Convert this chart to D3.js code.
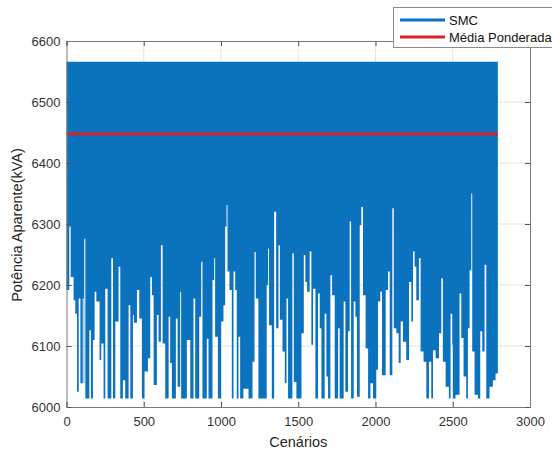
<!DOCTYPE html>
<html>
<head>
<meta charset="utf-8">
<script src="https://cdn.jsdelivr.net/npm/d3@7"></script>
<style>
  body { margin: 0; background: #fff; }
  svg { display: block; }
  text { font-family: "Liberation Sans", Arial, sans-serif; }
</style>
</head>
<body>
<svg id="chart" width="552" height="453"></svg>
<script>
// SMC: lowest value reached inside each run of scenarios (run starts at inicioCenario[i])
const inicioCenario = [
    0, 18, 27, 46, 57, 68, 79, 90, 105, 111, 115, 122, 148, 158, 171, 182, 193, 214, 225, 240,
    251, 266, 290, 301, 316, 337, 348, 365, 380, 402, 413, 430, 436, 456, 471, 488, 505, 527, 542, 553,
    564, 585, 596, 611, 622, 639, 661, 671, 682, 708, 719, 736, 742, 779, 801, 822, 833, 859, 872, 880,
    908, 919, 945, 956, 962, 980, 1001, 1016, 1027, 1036, 1042, 1055, 1070, 1081, 1092, 1102, 1113, 1124, 1145, 1178,
    1204, 1217, 1225, 1242, 1296, 1305, 1311, 1329, 1344, 1357, 1372,
    1381, 1398, 1413, 1424, 1434, 1462, 1471, 1488, 1521, 1536, 1546, 1557, 1574, 1585, 1596, 1611, 1628, 1639, 1650, 1671,
    1682, 1693, 1708, 1719, 1736, 1758, 1768, 1794, 1805, 1822, 1833, 1842, 1859, 1870, 1880, 1898, 1908, 1919, 1936, 1952,
    1967, 1984, 2005, 2016, 2031, 2042, 2066, 2081, 2092, 2109, 2118, 2135, 2150, 2163, 2178, 2199, 2217, 2232, 2243, 2253,
    2264, 2281, 2292, 2311, 2329, 2346, 2361, 2372, 2389, 2411, 2426, 2436, 2454, 2475, 2486, 2497, 2501, 2518, 2544, 2555,
    2570, 2587, 2598, 2609, 2620, 2626, 2641, 2663, 2678, 2691, 2706, 2717, 2738, 2760, 2777
];
const minimoSMC = [
    6192, 6296, 6213, 6175, 6153, 6025, 6178, 6039, 6178, 6039, 6276, 6014, 6126, 6014, 6110, 6189, 6173, 6077, 6104, 6014,
    6194, 6014, 6244, 6014, 6140, 6230, 6014, 6044, 6014, 6167, 6014, 6151, 6138, 6192, 6145, 6014, 6058, 6080, 6213, 6183,
    6036, 6151, 6107, 6265, 6104, 6014, 6148, 6072, 6014, 6145, 6033, 6189, 6014, 6110, 6014, 6178, 6014, 6148, 6238, 6014,
    6112, 6014, 6208, 6244, 6115, 6014, 6140, 6167, 6296, 6331, 6222, 6192, 6014, 6222, 6192, 6014, 6115, 6014, 6030, 6014,
    6074, 6254, 6178, 6014, 6200, 6260, 6134, 6014, 6320, 6129, 6265,
    6143, 6091, 6039, 6178, 6014, 6252, 6041, 6014, 6121, 6249, 6205, 6189, 6255, 6102, 6194, 6014, 6186, 6129, 6014, 6153,
    6050, 6014, 6216, 6183, 6014, 6129, 6014, 6173, 6025, 6124, 6304, 6014, 6173, 6148, 6017, 6298, 6328, 6183, 6096, 6014,
    6039, 6014, 6061, 6173, 6189, 6052, 6192, 6222, 6052, 6326, 6129, 6121, 6072, 6140, 6107, 6077, 6205, 6140, 6255, 6230,
    6175, 6244, 6091, 6074, 6014, 6074, 6014, 6093, 6080, 6121, 6211, 6074, 6033, 6014, 6153, 6102, 6014, 6020, 6186, 6113,
    6050, 6014, 6129, 6224, 6350, 6091, 6020, 6014, 6124, 6091, 6233, 6014, 6033, 6044, 6055
];
const ultimoCenario = 2792;
const picoSMC = 6566;
const mediaPonderada = 6448;

const xTicks = [0, 500, 1000, 1500, 2000, 2500, 3000];
const yTicks = [6000, 6100, 6200, 6300, 6400, 6500, 6600];
const legendLabels = ['SMC', 'Média Ponderada'];
const colors = { smc: '#0b72bd', media: '#d8232a' };

const svg = d3.select('#chart');
const plotLeft = 66.5, plotRight = 530, plotTop = 41, plotBottom = 407;

const x = d3.scaleLinear().domain([0, 3000]).range([plotLeft, plotRight]);
const y = d3.scaleLinear().domain([6000, 6600]).range([plotBottom, plotTop]);

// grid
const grid = svg.append('g').attr('stroke', '#e3e3e3').attr('stroke-width', 1);
grid.selectAll('.gx').data(xTicks.slice(1, -1)).join('line')
    .attr('x1', d => x(d)).attr('x2', d => x(d))
    .attr('y1', plotTop).attr('y2', plotBottom);
grid.selectAll('.gy').data(yTicks.slice(1, -1)).join('line')
    .attr('x1', plotLeft).attr('x2', plotRight)
    .attr('y1', d => y(d)).attr('y2', d => y(d));

// SMC series (dense, so drawn as its band from peak down to run minimum)
const runs = inicioCenario.map((s, i) => ({ s: s, v: minimoSMC[i] }));
runs.push({ s: ultimoCenario, v: minimoSMC[minimoSMC.length - 1] });

const band = d3.area()
    .x(d => x(d.s))
    .y0(d => y(d.v))
    .y1(y(picoSMC))
    .curve(d3.curveStepAfter);

svg.append('path')
    .datum(runs)
    .attr('fill', colors.smc)
    .attr('d', band);

// weighted mean
svg.append('line')
    .attr('x1', x(0)).attr('x2', x(ultimoCenario))
    .attr('y1', y(mediaPonderada)).attr('y2', y(mediaPonderada))
    .attr('stroke', colors.media)
    .attr('stroke-width', 3);

// axes box
const fmt = d3.format('d');
const xAxis = d3.axisBottom(x).tickValues(xTicks).tickFormat(fmt).tickSize(-5).tickPadding(10);
const yAxis = d3.axisLeft(y).tickValues(yTicks).tickFormat(fmt).tickSize(-5).tickPadding(6);

svg.append('g').attr('transform', `translate(0,${plotBottom})`).call(xAxis);
svg.append('g').attr('transform', `translate(${plotLeft},0)`).call(yAxis);
svg.append('g').attr('transform', `translate(0,${plotTop})`)
    .call(d3.axisTop(x).tickValues(xTicks).tickSize(-5).tickFormat(''));
svg.append('g').attr('transform', `translate(${plotRight},0)`)
    .call(d3.axisRight(y).tickValues(yTicks).tickSize(-5).tickFormat(''));

svg.selectAll('.domain').attr('stroke', '#7a7a7a');
svg.selectAll('.tick line').attr('stroke', '#555');
svg.selectAll('.tick text').attr('fill', '#333').attr('font-size', 13)
    .attr('font-family', '"Liberation Sans", Arial, sans-serif');

// axis titles
svg.append('text')
    .attr('x', (plotLeft + plotRight) / 2).attr('y', 447)
    .attr('text-anchor', 'middle').attr('font-size', 14.5).attr('fill', '#262626')
    .text('Cenários');
svg.append('text')
    .attr('transform', 'translate(22,225) rotate(-90)')
    .attr('text-anchor', 'middle').attr('font-size', 14.5).attr('fill', '#262626')
    .text('Potência Aparente(kVA)');

// legend
const legend = svg.append('g');
legend.append('rect')
    .attr('x', 393.5).attr('y', 7.5).attr('width', 170).attr('height', 40)
    .attr('fill', '#fff').attr('stroke', '#8a8a8a');
const legendColors = [colors.smc, colors.media];
legendLabels.forEach((label, i) => {
    const ly = 20 + i * 17;
    legend.append('line')
        .attr('x1', 400).attr('x2', 445).attr('y1', ly).attr('y2', ly)
        .attr('stroke', legendColors[i]).attr('stroke-width', 3);
    legend.append('text')
        .attr('x', 449).attr('y', ly + 4.5)
        .attr('font-size', 13).attr('fill', '#111')
        .text(label);
});
</script>
</body>
</html>
